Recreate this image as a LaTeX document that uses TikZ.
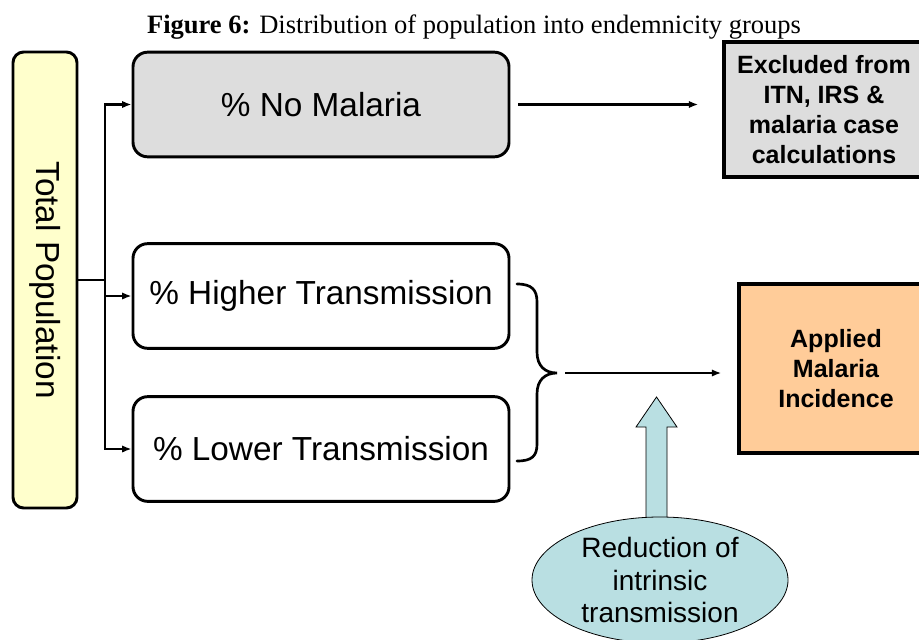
\documentclass[tikz,border=0pt]{standalone}
\usepackage{fontspec}
\setmainfont{Liberation Serif}
\newfontfamily\arial{Liberation Sans}
\usetikzlibrary{arrows.meta,shapes.geometric}
\definecolor{popyellow}{HTML}{FFFFCC}
\definecolor{nogray}{HTML}{DDDDDD}
\definecolor{incorange}{HTML}{FFCC99}
\definecolor{redteal}{HTML}{B9DFE2}
\tikzset{
  group/.style={draw, line width=2.2pt, rounded corners=11pt, inner sep=0pt,
    minimum width=282pt, minimum height=78.5pt,
    font=\arial\fontsize{25}{30}\selectfont},
  result/.style={draw, line width=2.6pt, inner sep=0pt, align=center,
    font=\arial\bfseries\fontsize{18.75}{22.5}\selectfont},
  link/.style={line width=2.2pt, -{Latex[length=7pt,width=5.5pt]}},
}
\begin{document}
\begin{tikzpicture}[x=0.75pt, y=-0.75pt]
\useasboundingbox (0,0) rectangle (919,639);
\clip (0,0) rectangle (919,639);

% caption
\node[anchor=base, font=\fontsize{19.9}{24}\selectfont] (title) at (474,33)
  {\textbf{Figure 6:} Distribution of population into endemnicity groups};

% total population column
\node[draw, fill=popyellow, line width=2.2pt, rounded corners=8pt, inner sep=0pt,
  minimum width=48pt, minimum height=342pt] (tp) at (45,280)
  {\rotatebox{-90}{\arial\fontsize{25}{30}\selectfont Total Population}};

% endemicity groups
\node[group, fill=nogray] (nm) at (321,104.5) {\% No Malaria};
\node[group] (ht) at (321,296) {\raisebox{-2pt}{\% Higher Transmission}};
\node[group] (lt) at (321,449) {\% Lower Transmission};

% outcomes
\node[result, fill=nogray, minimum width=150pt, minimum height=101.25pt] (ex)
  at (824,109.5) {Excluded from\\ITN, IRS \&\\malaria case\\calculations};
\node[result, fill=incorange, minimum width=145.5pt, minimum height=126.75pt] (ap)
  at (836,368.5) {Applied\\Malaria\\Incidence};

% split of the total population
\coordinate (j) at (105,280);
\draw[line width=2.2pt] (tp.east) -- (j);
\draw[link] (j) |- (nm.west);
\draw[link] (j) |- (ht.west);
\draw[link] (j) |- (lt.west);

% no-malaria group is excluded
\draw[link, line width=1.6pt, shorten <=6pt, shorten >=18pt] (nm.east) -- (nm.east -| ex.west);

% brace joining the two transmission groups
\coordinate (bt) at (557,373);
\draw[line width=2pt, line cap=round]
  (517,284) .. controls (532,284) and (537,290) .. (537,302) -- (537,352)
  .. controls (537,366) and (545,373) .. (bt)
  .. controls (545,373) and (537,380) .. (537,394) -- (537,444)
  .. controls (537,456) and (532,461) .. (517,461);
\draw[link, line width=1.8pt, shorten <=6pt, shorten >=12pt] (bt) -- (bt -| ap.west);

% reduction of intrinsic transmission, pushing up into the incidence link
\draw[fill=redteal, line width=0.6pt]
  (646,522) -- (646,427) -- (636,427) -- (656.5,397) -- (677,427) -- (667,427) -- (667,522) -- cycle;
\node[ellipse, draw, fill=redteal, line width=0.6pt, inner sep=0pt,
  minimum width=192pt, minimum height=94.5pt] (rd) at (660,580) {};
\node[align=center, inner sep=0pt, font=\arial\fontsize{21}{24.4}\selectfont] (rdtext)
  at (rd.center) {Reduction of\\intrinsic\\transmission};
\end{tikzpicture}
\end{document}
